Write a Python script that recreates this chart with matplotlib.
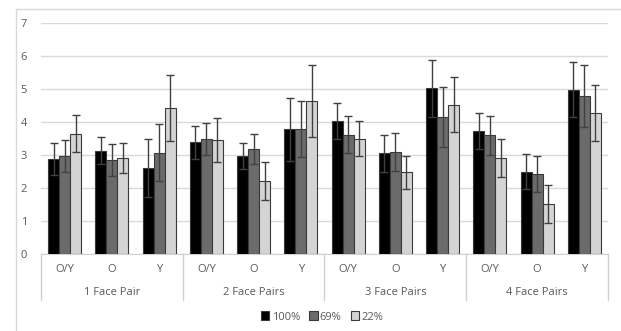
import matplotlib.pyplot as plt
from matplotlib.patches import Patch, Rectangle
import numpy as np

# grupos y categorias
grupos = ['1 Face Pair', '2 Face Pairs', '3 Face Pairs', '4 Face Pairs']
categorias = ['O/Y', 'O', 'Y'] * 4
series = ['100%', '69%', '22%']

v100 = [2.87, 3.13, 2.60, 3.38, 2.97, 3.78, 4.03, 3.05, 5.02, 3.73, 2.50, 4.98]
v69 = [2.97, 2.85, 3.07, 3.48, 3.18, 3.78, 3.62, 3.10, 4.15, 3.60, 2.42, 4.80]
v22 = [3.65, 2.90, 4.42, 3.45, 2.22, 4.65, 3.50, 2.48, 4.52, 2.90, 1.52, 4.27]

e100 = [0.48, 0.41, 0.88, 0.51, 0.39, 0.95, 0.55, 0.56, 0.87, 0.54, 0.52, 0.84]
e69 = [0.48, 0.48, 0.87, 0.48, 0.45, 0.85, 0.56, 0.57, 0.92, 0.59, 0.55, 0.94]
e22 = [0.57, 0.46, 0.99, 0.66, 0.57, 1.09, 0.53, 0.50, 0.83, 0.57, 0.58, 0.85]

colores = ['#000000', '#6b6b6b', '#d4d4d4']

W, H = 621, 331
fig = plt.figure(figsize=(W / 100, H / 100), dpi=100)
plt.rcParams['font.family'] = ['Open Sans', 'DejaVu Sans']

# borde del area del grafico
fig.patches.append(Rectangle((16 / W, -0.1), 1.2, 1.1 - 9 / H, transform=fig.transFigure,
                             fill=False, edgecolor='#d9d9d9', lw=1))

ax = fig.add_axes([41 / W, 1 - 254 / H, (608 - 41) / W, (254 - 23) / H])

x = np.arange(len(categorias))
ancho = 0.233
valores = [v100, v69, v22]
errores = [e100, e69, e22]
for i in range(3):
    ax.bar(x + (i - 1) * ancho, valores[i], ancho, color=colores[i],
           edgecolor='#3a3a3a', linewidth=0.8, zorder=3,
           yerr=errores[i], error_kw=dict(ecolor='#404040', elinewidth=1, capsize=3, capthick=1, zorder=4))

ax.set_xlim(-0.5, len(categorias) - 0.5)
ax.set_ylim(0, 7)
ax.set_yticks(range(8))
ax.tick_params(axis='y', length=0, labelsize=8, labelcolor='#595959', pad=10)
ax.set_xticks([])
ax.grid(axis='y', color='#d9d9d9', lw=1, zorder=0)
for s in ['top', 'right', 'left']:
    ax.spines[s].set_visible(False)
ax.spines['bottom'].set_color('#d0d0d0')

trans = ax.get_xaxis_transform()
for i, c in enumerate(categorias):
    ax.text(i, -0.065, c, transform=trans, ha='center', va='center', fontsize=8, color='#595959')
for j, g in enumerate(grupos):
    ax.text(3 * j + 1, -0.165, g, transform=trans, ha='center', va='center', fontsize=8, color='#595959')
for k in range(5):
    ax.plot([3 * k - 0.5] * 2, [0, -0.2], transform=trans, color='#d0d0d0', lw=1, clip_on=False)

handles = [Patch(facecolor=colores[i], edgecolor='#3a3a3a', lw=0.8) for i in range(3)]
fig.legend(handles, series, loc='center', bbox_to_anchor=(322 / W, 1 - 317 / H), ncol=3,
           frameon=False, fontsize=8, handlelength=0.8, handleheight=0.8,
           columnspacing=0.8, handletextpad=0.2, labelcolor='#595959')

fig.savefig('out.png', dpi=100)
